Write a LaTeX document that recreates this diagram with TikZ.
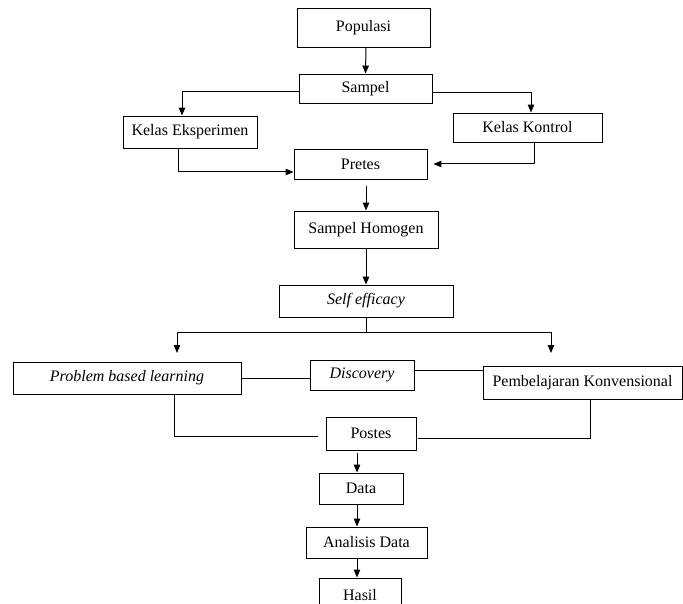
\documentclass[tikz,border=0pt]{standalone}
\usepackage{fontspec}
\setmainfont{Liberation Serif}
\usepackage{tikz}
\usetikzlibrary{arrows.meta,calc}
\tikzset{
	box/.style={draw, line width=0.9pt, inner sep=0pt, font=\fontsize{16}{19}\selectfont},
	flow/.style={-{Triangle[length=8pt, width=6.5pt]}, line width=1pt},
	link/.style={line width=0.9pt}
}

\begin{document}
\begin{tikzpicture}[x=1pt, y=-1pt]
	\clip (0,0) rectangle (683,604);
	\node[box, minimum width=133pt, minimum height=39pt] (populasi) at (363.5,27.5) {Populasi};
	\node[box, minimum width=133pt, minimum height=29pt] (sampel) at (365.5,88.5) {Sampel};
	\node[box, minimum width=134pt, minimum height=32pt] (eksperimen) at (190,132) {Kelas Eksperimen};
	\node[box, minimum width=149pt, minimum height=29pt] (kontrol) at (527.5,127.5) {Kelas Kontrol};
	\node[box, minimum width=133pt, minimum height=30pt] (pretes) at (360.5,164) {Pretes};
	\node[box, minimum width=144pt, minimum height=37pt] (homogen) at (366,229.5) {Sampel Homogen};
	\node[box, minimum width=174pt, minimum height=32pt] (efficacy) at (366,301) {\textit{Self efficacy}};
	\node[box, minimum width=228pt, minimum height=32pt] (pbl) at (127,378) {\textit{Problem based learning}};
	\node[box, minimum width=104pt, minimum height=30pt] (discovery) at (362,375) {\textit{Discovery}};
	\node[box, minimum width=199pt, minimum height=33pt] (konvensional) at (582.5,382.5) {Pembelajaran Konvensional};
	\node[box, minimum width=90pt, minimum height=33pt] (postes) at (371,433.5) {Postes};
	\node[box, minimum width=84pt, minimum height=31pt] (data) at (361,488.5) {Data};
	\node[box, minimum width=121pt, minimum height=31pt] (analisis) at (366.5,542.5) {Analisis Data};
	\node[box, minimum width=82pt, minimum height=34pt] (hasil) at (360,595) {Hasil};
	\coordinate (split) at (366,332);
	\coordinate (toPbl) at (177,353);
	\coordinate (toKonv) at (551,353);
	\draw[flow] ([xshift=2.5pt]populasi.south) -- (sampel.north);
	\draw[flow] ([yshift=-3pt]sampel.west) -| ([xshift=-8pt]eksperimen.north);
	\draw[flow] ([yshift=-4pt]sampel.east) -| ([xshift=3.5pt]kontrol.north);
	\draw[flow] ([xshift=-12pt]eksperimen.south) |- ([yshift=-8pt]pretes.west);
	\draw[flow] ([xshift=6.5pt]kontrol.south) |- ([xshift=6pt]pretes.east);
	\draw[flow] ($(homogen.north |- pretes.south)+(0,7)$) -- (homogen.north);
	\draw[flow] (homogen) -- (efficacy);
	\draw[link] (efficacy) -- (split);
	\draw[flow] (split) -| (toPbl);
	\draw[flow] (split) -| (toKonv);
	\draw[link] (pbl.east) -- (pbl.east -| discovery.west);
	\draw[link] ([yshift=5pt]discovery.east) -- ([yshift=5pt]discovery.east -| konvensional.west);
	\draw[link] ([xshift=47pt]pbl.south) |- ([xshift=-8pt,yshift=-2.5pt]postes.west);
	\draw[link] ([xshift=7.5pt]konvensional.south) |- ([xshift=2pt,yshift=-4.5pt]postes.east);
	\draw[flow] ($(data.north |- postes.south)+(-4,3)$) -- ([xshift=-4pt]data.north);
	\draw[flow] ([xshift=-4pt]data.south) -- ([xshift=-4pt]data.south |- analisis.north);
	\draw[flow] ([xshift=-9.5pt]analisis.south) -- ([xshift=-9.5pt]analisis.south |- hasil.north);
\end{tikzpicture}
\end{document}
